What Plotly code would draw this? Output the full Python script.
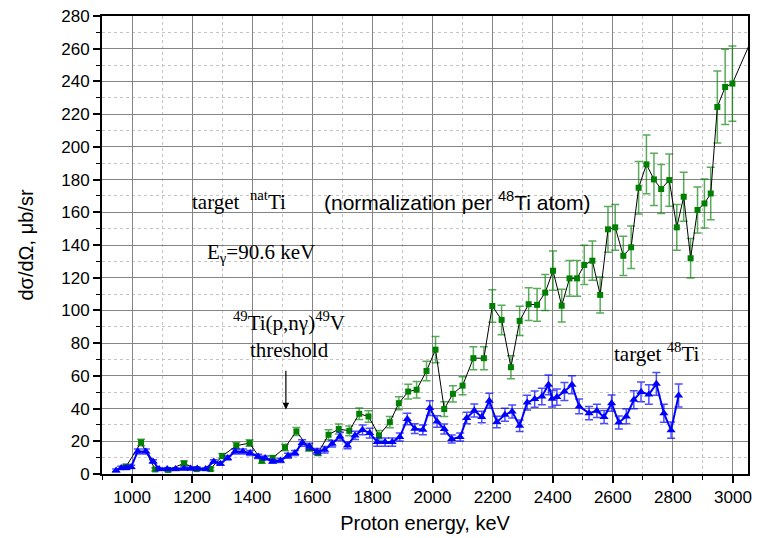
import plotly.graph_objects as go

# ---- data: natTi target (green squares) ----
green_E = [980, 1030, 1077, 1120, 1173, 1215, 1261, 1300, 1347, 1391, 1432, 1468, 1509, 1547, 1589, 1619,
           1654, 1688, 1723, 1756, 1787, 1822, 1858, 1888, 1919, 1947, 1980, 2010, 2039, 2068, 2100, 2136,
           2171, 2199, 2230, 2261, 2290, 2320, 2348, 2375, 2401, 2430, 2456, 2481, 2505, 2532, 2558, 2584,
           2608, 2635, 2661, 2686, 2712, 2737, 2761, 2788, 2813, 2836, 2859, 2882, 2905, 2926, 2948, 2974,
           2998, 3070]
green_v = [4.5, 19.3, 2.8, 2.5, 6.5, 3, 3, 11, 17.3, 18.9, 8.1, 9.8, 16.2, 26, 15.9, 12.8,
           24, 27.5, 26.4, 36.8, 35.2, 23.6, 31.7, 43.3, 50.4, 51.5, 63, 76, 39.7, 49, 54, 70.8,
           70.8, 102.7, 94.2, 65.3, 93.6, 103.8, 103.4, 110.9, 124.3, 102.9, 119.6, 119.6, 127.8, 130.4, 109.5, 149.6,
           150.8, 133.4, 138.6, 175, 189.3, 180.1, 174.2, 179.7, 150.8, 169.5, 131.9, 161.4, 165.4, 171.5, 224.4, 236.6,
           238.7, 269]
green_err = [1.5, 2, 1, 1, 1.5, 1, 1, 1.5, 2, 2, 1.5, 1.5, 2, 2.5, 2, 1.5,
             3, 3, 3, 3.5, 3.5, 3, 3.5, 4, 4.5, 5, 6, 8, 4.5, 5, 5.5, 7,
             7, 10, 9, 7, 9, 10, 10, 11, 12, 10, 11, 11, 12, 12, 11, 14,
             14, 12, 13, 16, 18, 16, 15, 16, 14, 15, 12, 14, 15, 16, 22, 23,
             23, 25]

# ---- data: 48Ti target (blue triangles) ----
blue_E = [947, 964, 980, 997, 1019, 1046, 1070, 1090, 1117, 1145, 1173, 1195, 1217, 1245, 1272, 1294,
          1318, 1343, 1369, 1393, 1420, 1443, 1468, 1494, 1519, 1542, 1566, 1590, 1616, 1641, 1666, 1692,
          1717, 1742, 1767, 1791, 1816, 1842, 1866, 1891, 1916, 1941, 1968, 1991, 2015, 2039, 2064, 2092,
          2114, 2139, 2164, 2189, 2214, 2241, 2265, 2290, 2315, 2340, 2364, 2386, 2398, 2414, 2439, 2464,
          2488, 2521, 2547, 2571, 2596, 2620, 2645, 2670, 2694, 2720, 2745, 2770, 2794, 2819]
blue_v = [2.2, 3.7, 3.7, 4.3, 13.8, 13.8, 7.7, 3, 3, 3, 3.3, 3.3, 3.3, 3, 7.7, 6.3,
          9.8, 13.8, 13.8, 12.8, 10.7, 9.8, 7.7, 8.3, 11.2, 12.8, 18.9, 16.8, 13.8, 14.8, 18.5, 23,
          17.5, 23.6, 27, 25, 19.5, 19.5, 19.5, 22.6, 33.6, 27.7, 27, 40.3, 32.1, 27.5, 21.4, 22.6,
          34.2, 38.8, 34.8, 44.8, 31.8, 36.2, 38.2, 29.5, 43.7, 45.8, 47.4, 54.5, 46, 47, 50.4, 54.5,
          41.3, 37.2, 38.6, 34.8, 43.3, 31.5, 35.2, 45.4, 50.2, 48.6, 55.1, 37.2, 26.8, 48]
blue_err = [0.8, 1, 1, 1, 1.5, 1.5, 1, 0.8, 0.8, 0.8, 0.8, 0.8, 0.8, 0.8, 1, 1,
            1.2, 1.5, 1.5, 1.5, 1.3, 1.2, 1.2, 1.2, 1.5, 1.5, 2, 2, 1.8, 2, 2, 2.5,
            2, 2.5, 3, 3, 2.5, 2.5, 2.5, 2.5, 3.5, 3, 3, 4.5, 3.5, 3, 2.5, 2.5,
            3.5, 4, 3.5, 4.5, 3.5, 4, 4, 3.5, 4.5, 5, 5, 6, 5, 5, 5.5, 5.5,
            4.5, 4, 4, 4, 5, 4, 4.5, 5.5, 6, 6, 7, 5.5, 5, 7]

x_ticks = [1000, 1200, 1400, 1600, 1800, 2000, 2200, 2400, 2600, 2800, 3000]
y_ticks = [0, 20, 40, 60, 80, 100, 120, 140, 160, 180, 200, 220, 240, 260, 280]

SANS = "Liberation Sans, Arial, sans-serif"
SERIF = "Liberation Serif, Times New Roman, serif"

fig = go.Figure()
fig.add_trace(go.Scatter(
    x=green_E, y=green_v, mode="lines+markers",
    line=dict(color="black", width=1),
    marker=dict(symbol="square", size=6, color="#008000"),
    error_y=dict(type="data", array=green_err, visible=True,
                 color="rgba(0,128,0,0.65)", thickness=1.5, width=4),
    showlegend=False))
fig.add_trace(go.Scatter(
    x=blue_E, y=blue_v, mode="lines+markers",
    line=dict(color="#0000FF", width=2),
    marker=dict(symbol="triangle-up", size=8, color="#0000FF"),
    error_y=dict(type="data", array=blue_err, visible=True,
                 color="rgba(0,0,255,0.7)", thickness=1.5, width=4),
    showlegend=False))

ann_font = dict(family=SERIF, size=21, color="black")
fig.add_annotation(x=1193, y=167.5, xref="x", yref="y", xanchor="left", yanchor="middle",
                   text="target  <sup>nat</sup>Ti", showarrow=False, font=ann_font)
fig.add_annotation(x=1631, y=167, xref="x", yref="y", xanchor="left", yanchor="middle",
                   text="(normalization per <sup>48</sup>Ti atom)", showarrow=False,
                   font=dict(family=SANS, size=21, color="black"))
fig.add_annotation(x=1243, y=135, xref="x", yref="y", xanchor="left", yanchor="middle",
                   text="E<sub>γ</sub>=90.6 keV", showarrow=False, font=ann_font)
fig.add_annotation(x=1330, y=93, xref="x", yref="y", xanchor="left", yanchor="middle",
                   text="<sup>49</sup>Ti(p,nγ)<sup>49</sup>V", showarrow=False, font=ann_font)
fig.add_annotation(x=1386, y=76, xref="x", yref="y", xanchor="left", yanchor="middle",
                   text="threshold", showarrow=False, font=ann_font)
fig.add_annotation(x=2597, y=74.5, xref="x", yref="y", xanchor="left", yanchor="middle",
                   text="target <sup>48</sup>Ti", showarrow=False, font=ann_font)
fig.add_annotation(x=1512, y=39.5, ax=1512, ay=64, xref="x", yref="y", axref="x", ayref="y",
                   text="", showarrow=True, arrowhead=2, arrowsize=1.1, arrowwidth=1.2,
                   arrowcolor="black")

fig.update_xaxes(
    range=[900, 3050], tickvals=x_ticks, ticktext=[str(v) for v in x_ticks],
    showline=True, linecolor="black", linewidth=2, mirror=True,
    ticks="outside", ticklen=7, tickwidth=1.5, tickcolor="black",
    showgrid=True, gridcolor="#858585", gridwidth=1.4, zeroline=False,
    minor=dict(dtick=100, tick0=900, ticks="outside", ticklen=4, tickwidth=1.2, tickcolor="black",
               showgrid=True, gridcolor="#c4c4c4", griddash="dot", gridwidth=1),
    tickfont=dict(family=SANS, size=17, color="black"),
    title=dict(text="Proton energy, keV", font=dict(family=SANS, size=20, color="black"), standoff=10))
fig.update_yaxes(
    range=[0, 280], tickvals=y_ticks, ticktext=[str(v) for v in y_ticks],
    showline=True, linecolor="black", linewidth=2, mirror=True,
    ticks="outside", ticklen=7, tickwidth=1.5, tickcolor="black",
    showgrid=True, gridcolor="#858585", gridwidth=1.4, zeroline=False,
    minor=dict(dtick=10, tick0=0, ticks="outside", ticklen=4, tickwidth=1.2, tickcolor="black",
               showgrid=True, gridcolor="#c4c4c4", griddash="dot", gridwidth=1),
    tickfont=dict(family=SANS, size=17, color="black"),
    title=dict(text="dσ/dΩ, μb/sr", font=dict(family=SANS, size=20, color="black"), standoff=22))

fig.update_layout(
    width=757, height=538,
    margin=dict(l=102, r=5, t=16, b=64),
    paper_bgcolor="white", plot_bgcolor="white",
    showlegend=False)

fig.write_html("out.html")
